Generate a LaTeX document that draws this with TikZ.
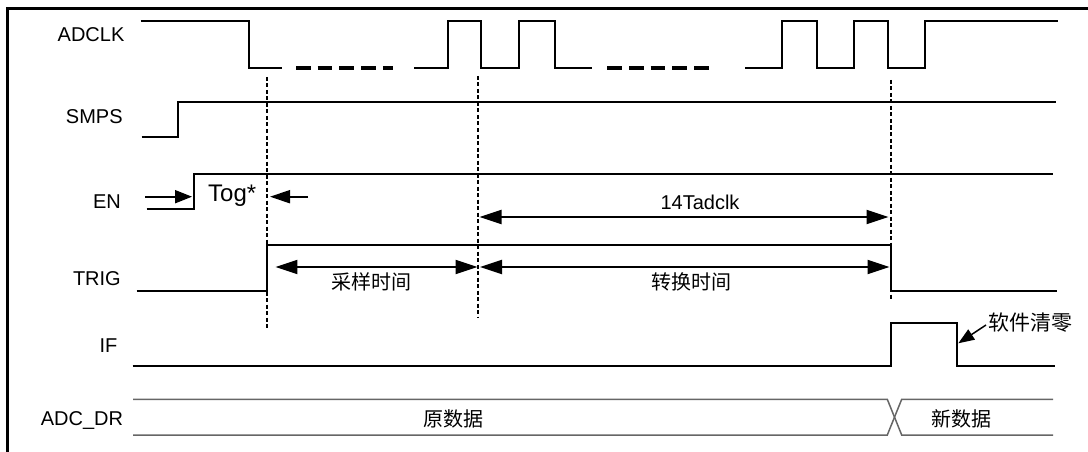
\documentclass[tikz,border=0pt]{standalone}
\usepackage{fontspec}
\setmainfont{Liberation Sans}
\newfontfamily\cjk{Noto Sans CJK SC}
\usetikzlibrary{arrows.meta}
\begin{document}
\begin{tikzpicture}[x=1pt,y=-1pt,
  sig/.style={line width=2pt},
  clkdash/.style={line width=4pt, dash pattern=on 14.7pt off 7pt},
  vdash/.style={line width=1.2pt, dash pattern=on 4pt off 2.5pt},
  datal/.style={line width=1.5pt, draw=black!60},
  lbl/.style={font=\fontsize{20}{24}\selectfont, inner sep=0pt},
  cn/.style={font=\cjk\fontsize{20}{24}\selectfont, inner sep=0pt},
  arrA/.style={line width=2pt, -{Triangle[length=22pt,width=14pt]}},
  arrAA/.style={line width=2pt, {Triangle[length=22pt,width=14pt]}-{Triangle[length=22pt,width=14pt]}},
  arrS/.style={line width=2pt, -{Triangle[length=17pt,width=13pt]}},
  arrT/.style={line width=2pt, -{Triangle[length=20pt,width=13pt]}},
  arrW/.style={line width=1.5pt, -{Triangle[length=16pt,width=12pt]}}]
\useasboundingbox (0,0) rectangle (1088,452);
% frame (top and left edges only)
\draw[line width=2.5pt] (7.5,452) -- (7.5,8.5) -- (1088,8.5);

% signal labels
\node[lbl, anchor=base east] (lADCLK) at (124.6,41.7) {ADCLK};
\node[lbl, anchor=base east] (lSMPS) at (122.8,124) {SMPS};
\node[lbl, anchor=base east] (lEN) at (121,208.3) {EN};
\node[lbl, anchor=base east] (lTRIG) at (121,285) {TRIG};
\node[lbl, anchor=base east] (lIF) at (117.5,352.7) {IF};
\node[lbl, anchor=base east] (lDR) at (123.3,425) {ADC\_DR};

% ADCLK
\draw[sig] (140.7,20.7) -- (249,20.7) -- (249,67.7) -- (281.7,67.7);
\draw[clkdash] (296,67.7) -- (393,67.7);
\draw[sig] (414.3,67.7) -- (448,67.7) -- (448,20.7) -- (481,20.7) -- (481,67.7)
  -- (519,67.7) -- (519,20.7) -- (555,20.7) -- (555,67.7) -- (591.7,67.7);
\draw[clkdash] (607.3,67.7) -- (710,67.7);
\draw[sig] (745,67.7) -- (782,67.7) -- (782,20.7) -- (817,20.7) -- (817,67.7)
  -- (854,67.7) -- (854,20.7) -- (888,20.7) -- (888,67.7) -- (925,67.7)
  -- (925,20.7) -- (1058,20.7);

% SMPS
\draw[sig] (141.7,137.3) -- (178.3,137.3) -- (178.3,101.7) -- (1055.7,101.7);
% EN
\draw[sig] (146.7,209.3) -- (194,209.3) -- (194,173.7) -- (1053,173.7);
% TRIG
\draw[sig] (136.7,290.7) -- (267,290.7) -- (267,245) -- (891,245) -- (891,290.7) -- (1057,290.7);
% IF
\draw[sig] (132.7,366) -- (891,366) -- (891,323.3) -- (956.7,323.3) -- (956.7,366) -- (1055,366);
% ADC_DR
\draw[datal] (133,399.3) -- (887.3,399.3) -- (901.7,435) -- (1053,435);
\draw[datal] (133,435) -- (887.3,435) -- (901.7,399.3) -- (1053,399.3);

% vertical dashed markers
\draw[vdash] (267,77) -- (267,329);
\draw[vdash] (478,76) -- (478,317);
\draw[vdash] (891,80) -- (891,299);

% Tog* arrows
\coordinate (enA) at (145,196.7);
\coordinate (enB) at (192,196.7);
\coordinate (togA) at (308,196.7);
\coordinate (togB) at (270,196.7);
\draw[arrS] (enA) -- (enB);
\draw[arrT] (togA) -- (togB);
\node[font=\fontsize{24}{28}\selectfont, inner sep=0pt, anchor=base west] (tog) at (208,201) {Tog*};

% 14Tadclk
\coordinate (tA) at (479.5,217);
\coordinate (tB) at (888.5,217);
\draw[arrAA] (tA) -- (tB);
\node[lbl, anchor=base] (t14) at (700,209.3) {14Tadclk};

% sampling / conversion
\coordinate (sA) at (275.4,267);
\coordinate (sB) at (477.5,267);
\coordinate (cA) at (480,267);
\coordinate (cB) at (889.5,267);
\draw[arrAA] (sA) -- (sB);
\draw[arrAA] (cA) -- (cB);
\node[cn] (samp) at (371,281.7) {采样时间};
\node[cn] (conv) at (691,281.7) {转换时间};

% software clear
\coordinate (wA) at (986,325);
\coordinate (wB) at (958.3,343.3);
\draw[arrW] (wA) -- (wB);
\node[cn, font=\cjk\fontsize{21}{24}\selectfont, anchor=west] (clr) at (988,323) {软件清零};

% data labels
\node[cn] (old) at (453.5,419) {原数据};
\node[cn] (new) at (961.7,419) {新数据};
\end{tikzpicture}
\end{document}
